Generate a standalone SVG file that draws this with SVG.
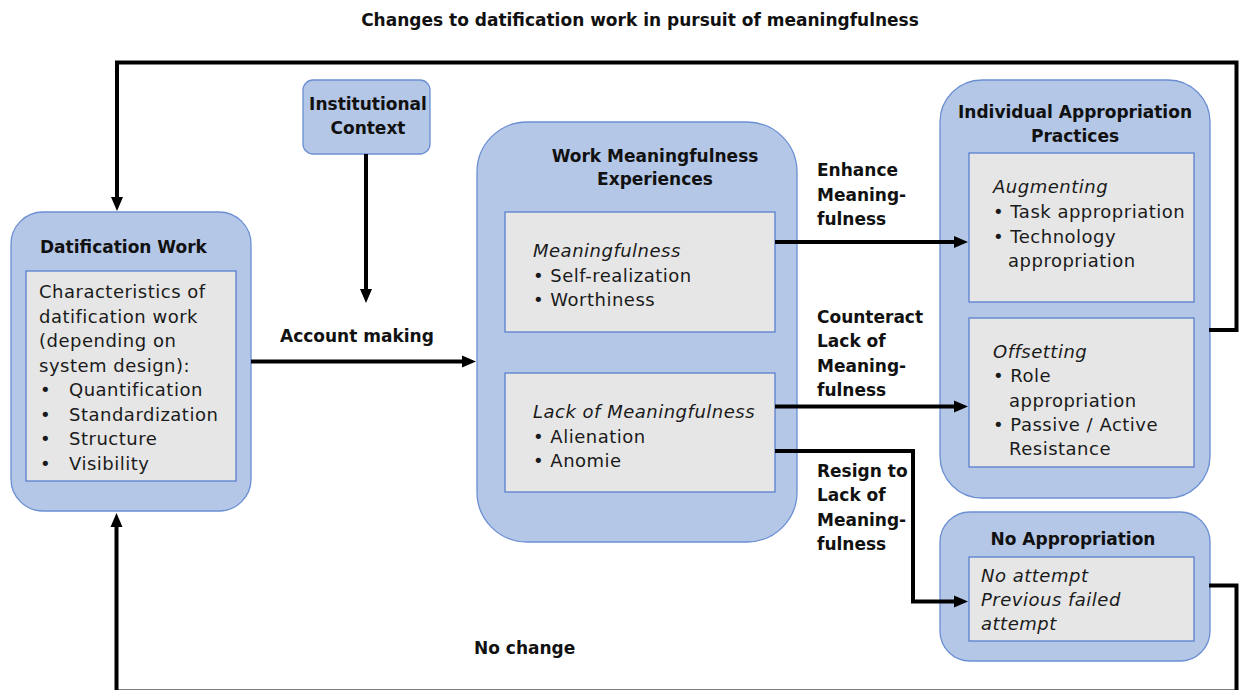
<svg xmlns="http://www.w3.org/2000/svg" width="1241" height="690" viewBox="0 0 1241 690">
<style>
.outer{fill:#b4c7e7;stroke:#6b8fd3;stroke-width:1.3}
.inner{fill:#e6e6e6;stroke:#5b7fd0;stroke-width:1.3}
text{font-family:"DejaVu Sans","Liberation Sans",sans-serif;fill:#111}
.b{font-weight:bold;font-size:17px}
.t{font-size:18px;letter-spacing:0.5px;fill:#1a1a1a}
.i{font-style:italic}
.m{text-anchor:middle}
.c{fill:none;stroke:#000;stroke-width:4}
</style>
<defs>
<marker id="ah" markerUnits="userSpaceOnUse" markerWidth="14" markerHeight="14" viewBox="0 0 14 14" refX="3" refY="7" orient="auto">
<path d="M0,1 L14,7 L0,13 Z" fill="#000"/>
</marker>
</defs>
<text class="b m" x="640" y="26">Changes to datification work in pursuit of meaningfulness</text>

<g id="datification">
<rect class="outer" x="11" y="212" width="240" height="299" rx="32"/>
<text class="b" x="40" y="252.5">Datification Work</text>
<rect class="inner" x="26" y="271" width="210" height="210"/>
<text class="t" x="39" y="298">Characteristics of</text>
<text class="t" x="39" y="322.5">datification work</text>
<text class="t" x="39" y="347">(depending on</text>
<text class="t" x="39" y="371.5">system design):</text>
<text class="t" x="40" y="396">•</text><text class="t" x="69" y="396">Quantification</text>
<text class="t" x="40" y="420.5">•</text><text class="t" x="69" y="420.5">Standardization</text>
<text class="t" x="40" y="445">•</text><text class="t" x="69" y="445">Structure</text>
<text class="t" x="40" y="469.5">•</text><text class="t" x="69" y="469.5">Visibility</text>
</g>

<g id="institutional">
<rect class="outer" x="303" y="80" width="127" height="74" rx="10"/>
<text class="b m" x="368" y="110">Institutional</text>
<text class="b m" x="368" y="134">Context</text>
</g>

<g id="meaningfulness">
<rect class="outer" x="477" y="122" width="320" height="420" rx="50"/>
<text class="b m" x="655" y="161.5">Work Meaningfulness</text>
<text class="b m" x="655" y="185">Experiences</text>
<rect class="inner" x="505" y="212" width="270" height="120"/>
<text class="t i" x="533" y="256.5">Meaningfulness</text>
<text class="t" x="533" y="281.5">• Self-realization</text>
<text class="t" x="533" y="306">• Worthiness</text>
<rect class="inner" x="505" y="373" width="270" height="119"/>
<text class="t i" x="533" y="417.5">Lack of Meaningfulness</text>
<text class="t" x="533" y="442.5">• Alienation</text>
<text class="t" x="533" y="466.5">• Anomie</text>
</g>

<g id="appropriation">
<rect class="outer" x="940" y="80" width="270" height="418" rx="42"/>
<text class="b m" x="1075" y="118">Individual Appropriation</text>
<text class="b m" x="1075" y="142">Practices</text>
<rect class="inner" x="969" y="153" width="225" height="149"/>
<text class="t i" x="993" y="193">Augmenting</text>
<text class="t" x="993" y="218">• Task appropriation</text>
<text class="t" x="993" y="242.5">• Technology</text>
<text class="t" x="1008" y="267">appropriation</text>
<rect class="inner" x="969" y="318" width="225" height="149"/>
<text class="t i" x="993" y="357.5">Offsetting</text>
<text class="t" x="993" y="382">• Role</text>
<text class="t" x="1009" y="406.5">appropriation</text>
<text class="t" x="993" y="431">• Passive / Active</text>
<text class="t" x="1009" y="455">Resistance</text>
</g>

<g id="no-appropriation">
<rect class="outer" x="940" y="512" width="270" height="149" rx="30"/>
<text class="b m" x="1073" y="545">No Appropriation</text>
<rect class="inner" x="969" y="557" width="225" height="84"/>
<text class="t i" x="981" y="581.5">No attempt</text>
<text class="t i" x="981" y="606">Previous failed</text>
<text class="t i" x="981" y="630">attempt</text>
</g>

<g id="connectors">
<path class="c" d="M1209,330 H1236.5 V62.5 H117 V200" marker-end="url(#ah)"/>
<path class="c" d="M1209,585.5 H1236.5 V691.5 H116.5 V524" marker-end="url(#ah)"/>
<path class="c" d="M366,154 V292" marker-end="url(#ah)"/>
<path class="c" d="M251,361.5 H465" marker-end="url(#ah)"/>
<path class="c" d="M775,242 H957" marker-end="url(#ah)"/>
<path class="c" d="M775,406.5 H957" marker-end="url(#ah)"/>
<path class="c" d="M775,451 H913 V601.5 H957" marker-end="url(#ah)"/>
<text class="b" x="280" y="342">Account making</text>
<text class="b" x="817" y="176">Enhance</text>
<text class="b" x="817" y="200.5">Meaning-</text>
<text class="b" x="817" y="225">fulness</text>
<text class="b" x="817" y="322.5">Counteract</text>
<text class="b" x="817" y="347">Lack of</text>
<text class="b" x="817" y="371.5">Meaning-</text>
<text class="b" x="817" y="396">fulness</text>
<text class="b" x="817" y="476.5">Resign to</text>
<text class="b" x="817" y="501">Lack of</text>
<text class="b" x="817" y="525.5">Meaning-</text>
<text class="b" x="817" y="550">fulness</text>
<text class="b" x="474" y="654">No change</text>
</g>
</svg>
